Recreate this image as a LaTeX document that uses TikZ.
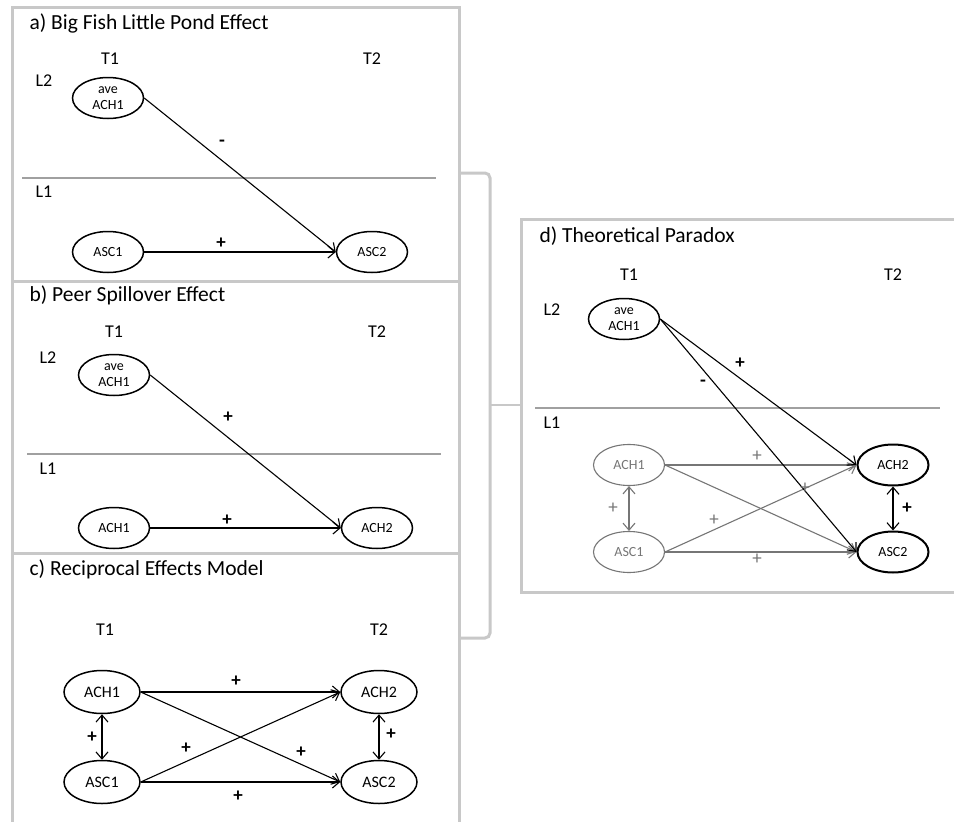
\documentclass[tikz,border=0pt]{standalone}
\usepackage{fontspec}
\setmainfont{Carlito}
\usetikzlibrary{shapes.geometric,arrows.meta}
\definecolor{boxgray}{HTML}{C8C8C8}
\definecolor{divgray}{HTML}{A0A0A0}
\definecolor{fadegray}{HTML}{767676}
\tikzset{
  panel/.style={draw=boxgray, line width=3pt},
  levelline/.style={draw=divgray, line width=1.2pt},
  var/.style={ellipse, draw, line width=1.5pt, inner sep=0pt,
    minimum width=71pt, minimum height=41pt, align=center,
    font=\fontsize{14}{16}\selectfont},
  bigvar/.style={var, minimum width=76pt, minimum height=43pt,
    font=\fontsize{16}{18}\selectfont},
  faint/.style={draw=fadegray, text=fadegray},
  strong/.style={line width=2pt},
  effect/.style={-{Straight Barb[length=7pt,width=12pt]}, line width=1.1pt},
  mutual/.style={{Straight Barb[length=7pt,width=12pt]}-{Straight Barb[length=7pt,width=12pt]}, line width=1.1pt},
  fadepath/.style={draw=fadegray},
  heading/.style={anchor=base west, font=\fontsize{21.5}{24}\selectfont},
  timelab/.style={anchor=base, font=\fontsize{18}{20}\selectfont},
  levellab/.style={anchor=base west, font=\fontsize{18}{20}\selectfont},
  sign/.style={font=\fontsize{19}{20}\selectfont\bfseries, inner sep=0pt},
  fadesign/.style={font=\fontsize{19}{20}\selectfont, inner sep=0pt, text=fadegray},
}
\begin{document}
\begin{tikzpicture}[x=1pt, y=-1pt]
\useasboundingbox (0,0) rectangle (954,822);
\fill[white] (0,0) rectangle (954,822);

% ---------- frames and bracket ----------
\draw[panel] (12,7) rectangle (459,281);
\draw[panel] (12,281) rectangle (459,553);
\draw[panel] (12,553) rectangle (459,840);
\draw[panel] (521,219) rectangle (970,592);
\draw[panel, rounded corners=5pt] (459,173) -- (490,173) -- (490,638) -- (459,638);
\coordinate (bracketmid) at (490,405);
\coordinate (paneld) at (521,405);
\draw[draw=boxgray, line width=1.2pt] (bracketmid) -- (paneld);

% ---------- a) Big Fish Little Pond Effect ----------
\node[heading] (atitle) at (26,29) {a) Big Fish Little Pond Effect};
\node[timelab] (aT1) at (110,64) {T1};
\node[timelab] (aT2) at (372,64) {T2};
\node[levellab] (aL2) at (32,86) {L2};
\node[levellab] (aL1) at (32,197) {L1};
\draw[levelline] (22,178) -- (436,178);
\node[var] (aave) at (108,98) {ave\\ACH1};
\node[var] (aasc1) at (108,252) {ASC1};
\node[var] (aasc2) at (372,252) {ASC2};
\draw[effect] (aave.east) -- (aasc2.west);
\draw[effect] (aasc1.east) -- (aasc2.west);
\node[sign] (aminus) at (222,143) {-};
\node[sign] (aplus) at (221,243) {+};

% ---------- b) Peer Spillover Effect ----------
\node[heading] (btitle) at (26,301) {b) Peer Spillover Effect};
\node[timelab] (bT1) at (114,337) {T1};
\node[timelab] (bT2) at (377,337) {T2};
\node[levellab] (bL2) at (36,363) {L2};
\node[levellab] (bL1) at (36,474) {L1};
\draw[levelline] (27,454) -- (441,454);
\node[var] (bave) at (114,375) {ave\\ACH1};
\node[var] (bach1) at (114,528) {ACH1};
\node[var] (bach2) at (377,528) {ACH2};
\draw[effect] (bave.east) -- (bach2.west);
\draw[effect] (bach1.east) -- (bach2.west);
\node[sign] (bplusA) at (228,417) {+};
\node[sign] (bplusB) at (227,520) {+};

% ---------- c) Reciprocal Effects Model ----------
\node[heading] (ctitle) at (26,575) {c) Reciprocal Effects Model};
\node[timelab] (cT1) at (105,635) {T1};
\node[timelab] (cT2) at (379,635) {T2};
\node[bigvar] (cach1) at (102,692) {ACH1};
\node[bigvar] (casc1) at (102,782) {ASC1};
\node[bigvar] (cach2) at (379,692) {ACH2};
\node[bigvar] (casc2) at (379,782) {ASC2};
\draw[effect] (cach1.east) -- (cach2.west);
\draw[effect] (cach1.east) -- (casc2.west);
\draw[effect] (casc1.east) -- (cach2.west);
\draw[effect] (casc1.east) -- (casc2.west);
\draw[mutual] (cach1.south) -- (casc1.north);
\draw[mutual] (cach2.south) -- (casc2.north);
\node[sign] (cplusTop) at (236,681) {+};
\node[sign] (cplusBot) at (238,796) {+};
\node[sign] (cplusL) at (92,737) {+};
\node[sign] (cplusR) at (391,734) {+};
\node[sign] (cplusX1) at (186,748) {+};
\node[sign] (cplusX2) at (301,752) {+};

% ---------- d) Theoretical Paradox ----------
\node[heading] (dtitle) at (536,242) {d) Theoretical Paradox};
\node[timelab] (dT1) at (629,280) {T1};
\node[timelab] (dT2) at (893,280) {T2};
\node[levellab] (dL2) at (540,315) {L2};
\node[levellab] (dL1) at (540,428) {L1};
\draw[levelline] (535,408) -- (940,408);
\node[var] (dave) at (624,319) {ave\\ACH1};
\node[var, faint, line width=1.1pt] (dach1) at (629,465) {ACH1};
\node[var, faint, line width=1.1pt] (dasc1) at (629,552) {ASC1};
\node[var, strong] (dach2) at (893,465) {ACH2};
\node[var, strong] (dasc2) at (893,552) {ASC2};
\draw[effect, fadepath] (dach1.east) -- (dach2.west);
\draw[effect, fadepath] (dach1.east) -- (dasc2.west);
\draw[effect, fadepath] (dasc1.east) -- (dach2.west);
\draw[effect, fadepath] (dasc1.east) -- (dasc2.west);
\draw[mutual, fadepath] (dach1.south) -- (dasc1.north);
\draw[effect] (dave.east) -- (dach2.west);
\draw[effect] (dave.east) -- (dasc2.west);
\draw[mutual] (dach2.south) -- (dasc2.north);
\node[sign] (dplus) at (740,363) {+};
\node[sign] (dminus) at (703,383) {-};
\node[fadesign] (dplusTop) at (757,456) {+};
\node[fadesign] (dplusBot) at (757,559) {+};
\node[fadesign] (dplusL) at (613,508) {+};
\node[fadesign] (dplusX1) at (714,520) {+};
\node[fadesign] (dplusX2) at (805,488) {+};
\node[sign] (dplusR) at (907,508) {+};
\end{tikzpicture}
\end{document}
